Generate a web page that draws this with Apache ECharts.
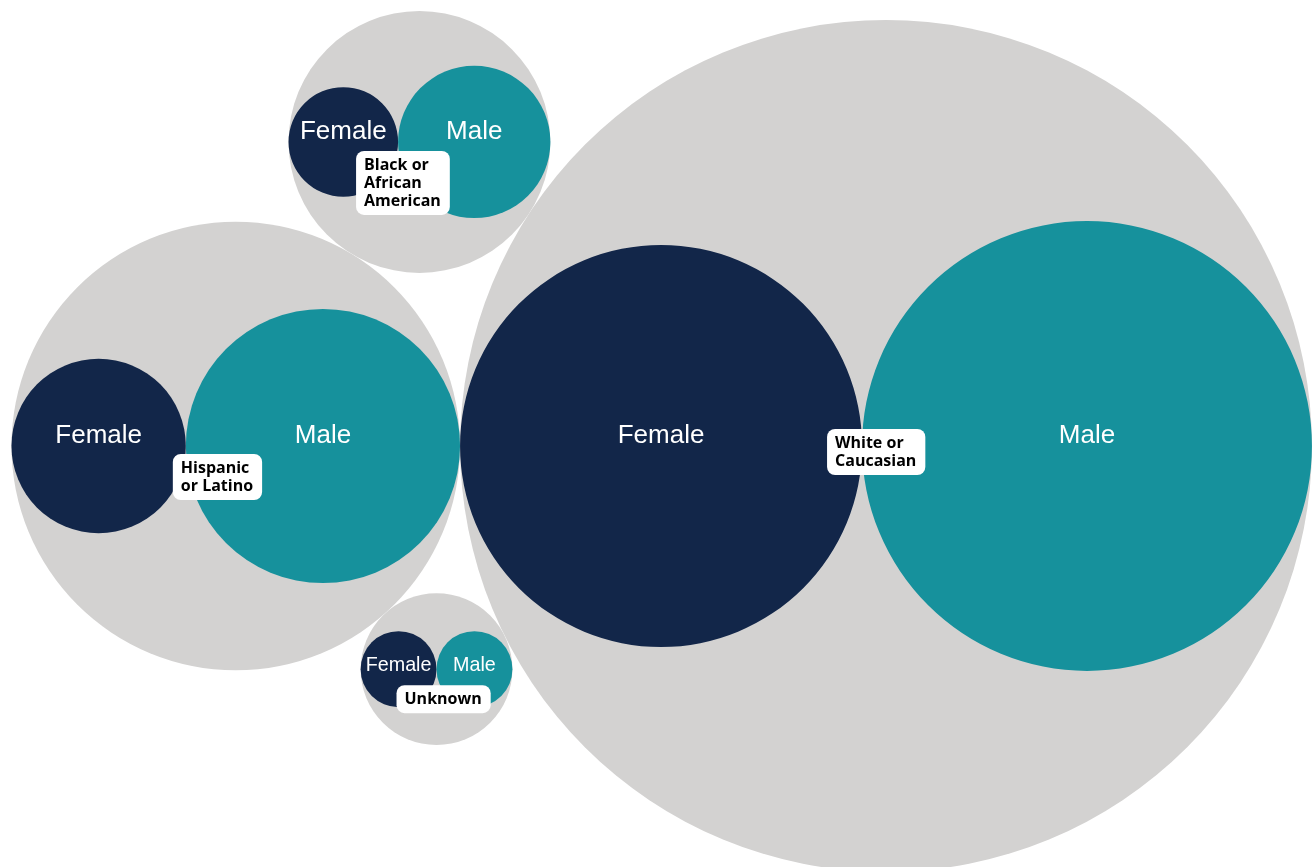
<!DOCTYPE html>
<html>
<head>
<meta charset="utf-8">
<script src="https://cdn.jsdelivr.net/npm/echarts@6/dist/echarts.min.js"></script>
<style>
html, body { margin: 0; padding: 0; background: #fff; }
#main { width: 1312px; height: 867px; }
</style>
</head>
<body>
<div id="main"></div>
<script>
// groups, biggest first (packing order)
var groups = ['White or\nCaucasian', 'Hispanic\nor Latino', 'Black or\nAfrican\nAmerican', 'Unknown'];
var female = [404, 76, 30, 14.4];
var male = [506, 188, 58, 14.4];
var sexLabels = ['Female', 'Male'];

// where each group label box sits, px from the female/male touching point
var labelShift = [[-35, -17], [-13, 8], [-42, 9], [-40, 16]];
var colors = ['#122649', '#16919c'];
var groupColor = '#d3d2d1';

// circle radius ~ sqrt(value), each group circle wraps its two circles side by side
var rf = female.map(Math.sqrt);
var rm = male.map(Math.sqrt);
var R = rf.map(function (r, i) { return r + rm[i]; });

var centers = [];
centers[0] = [0, 0];
centers[1] = [-(R[0] + R[1]), 0];
// put a circle touching circles i and j
function touching(i, j, rc, side) {
    var A = centers[i], B = centers[j];
    var dx = B[0] - A[0], dy = B[1] - A[1];
    var d = Math.sqrt(dx * dx + dy * dy);
    var d0 = R[i] + rc, d1 = R[j] + rc;
    var a = (d0 * d0 - d1 * d1 + d * d) / (2 * d);
    var h = Math.sqrt(Math.max(0, d0 * d0 - a * a));
    var ux = dx / d, uy = dy / d;
    return [A[0] + a * ux - side * h * uy, A[1] + a * uy + side * h * ux];
}
centers[2] = touching(0, 1, R[2], -1);
centers[3] = touching(0, 1, R[3], 1);

var groupData = [], peopleData = [], labelData = [];
centers.forEach(function (c, i) {
    groupData.push([c[0], c[1], R[i]]);
    peopleData.push([c[0] - R[i] + rf[i], c[1], rf[i], 0]);
    peopleData.push([c[0] + R[i] - rm[i], c[1], rm[i], 1]);
    labelData.push([c[0] - R[i] + 2 * rf[i], c[1], i]);
});

var chart = echarts.init(document.getElementById('main'));
chart.setOption({
    animation: false,
    grid: { left: 0, right: 0, top: 0, bottom: 0 },
    xAxis: { type: 'value', min: -88.6, max: 42.6, show: false },
    yAxis: { type: 'value', min: -42.1, max: 44.6, show: false },
    series: [
        {
            type: 'custom',
            data: groupData,
            silent: true,
            renderItem: function (params, api) {
                var p = api.coord([api.value(0), api.value(1)]);
                var r = api.size([api.value(2), 0])[0];
                return { type: 'circle', shape: { cx: p[0], cy: p[1], r: r }, style: { fill: groupColor } };
            }
        },
        {
            type: 'custom',
            data: peopleData,
            silent: true,
            renderItem: function (params, api) {
                var p = api.coord([api.value(0), api.value(1)]);
                var r = api.size([api.value(2), 0])[0];
                var k = api.value(3);
                var fs = Math.min(26, r * 0.52);
                return {
                    type: 'group',
                    children: [
                        { type: 'circle', shape: { cx: p[0], cy: p[1], r: r }, style: { fill: colors[k] } },
                        {
                            type: 'text',
                            style: {
                                text: sexLabels[k], x: p[0], y: p[1] - (fs - 16),
                                align: 'center', verticalAlign: 'middle',
                                fill: '#fff', fontSize: fs, fontFamily: 'Liberation Sans, Arial, sans-serif'
                            }
                        }
                    ]
                };
            }
        },
        {
            type: 'custom',
            data: labelData,
            silent: true,
            renderItem: function (params, api) {
                var p = api.coord([api.value(0), api.value(1)]);
                var i = api.value(2);
                return {
                    type: 'text',
                    style: {
                        text: groups[i],
                        x: p[0] + labelShift[i][0], y: p[1] + labelShift[i][1],
                        align: 'left', verticalAlign: 'top',
                        fill: '#000', fontSize: 16, fontWeight: 'bold', fontFamily: 'Open Sans',
                        lineHeight: 18, backgroundColor: '#fff', borderRadius: 8, padding: [5, 9, 5, 8]
                    }
                };
            }
        }
    ]
});
</script>
</body>
</html>
